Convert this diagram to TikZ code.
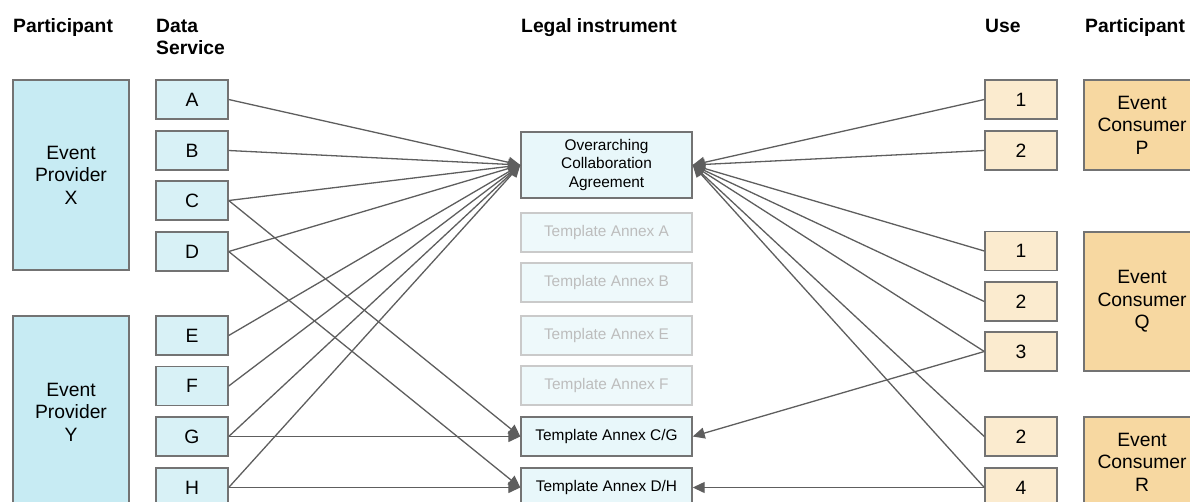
\documentclass[tikz,border=0pt]{standalone}
\usepackage{fontspec}
\setmainfont{Liberation Sans}
\usetikzlibrary{arrows.meta}
\definecolor{provfill}{HTML}{C7EBF3}
\definecolor{dsfill}{HTML}{D8F1F6}
\definecolor{legfill}{HTML}{E8F7FA}
\definecolor{tplfill}{HTML}{EEF9FB}
\definecolor{tplline}{HTML}{CACACA}
\definecolor{tpltext}{HTML}{BDBDBD}
\definecolor{usefill}{HTML}{FBEBCF}
\definecolor{consfill}{HTML}{F7D8A1}
\definecolor{boxline}{HTML}{737373}
\definecolor{conline}{HTML}{5E5E5E}
\tikzset{
  bx/.style={draw=boxline, line width=1.4pt, inner sep=0pt, align=center,
    font=\fontsize{19.3}{22.5}\selectfont},
  prov/.style={bx, fill=provfill, minimum width=116pt},
  ds/.style={bx, fill=dsfill, minimum width=72pt, minimum height=39pt},
  legal/.style={bx, fill=legfill, minimum width=171pt, minimum height=39pt,
    font=\fontsize{15.4}{18.5}\selectfont},
  tpl/.style={legal, fill=tplfill, draw=tplline, text=tpltext},
  usebox/.style={bx, fill=usefill, minimum width=72pt, minimum height=39pt},
  cons/.style={bx, fill=consfill, minimum width=116pt},
  hdr/.style={anchor=base west, inner sep=0pt, font=\fontsize{19.3}{22.5}\selectfont\bfseries},
  con/.style={draw=conline, line width=1.3pt, -{Triangle[length=12pt,width=11pt]}}
}
\begin{document}
\begin{tikzpicture}[x=1pt,y=-1pt]
\useasboundingbox (0,0) rectangle (1190,501);
\clip (0,0) rectangle (1190,501);
% headers
\node[hdr] (h1) at (13,32) {Participant};
\node[hdr] (h2a) at (156,32) {Data};
\node[hdr] (h2b) at (156,54) {Service};
\node[hdr] (h3) at (521,32) {Legal instrument};
\node[hdr] (h4) at (985,32) {Use};
\node[hdr] (h5) at (1085,32) {Participant};
% providers
\node[prov, minimum height=190pt] (PX) at (71,175) {Event\\Provider\\X};
\node[prov, minimum height=192pt] (PY) at (71,412) {Event\\Provider\\Y};
% data services
\node[ds] (A) at (192,99.5) {A};
\node[ds] (B) at (192,150.5) {B};
\node[ds] (C) at (192,200.5) {C};
\node[ds] (D) at (192,251.5) {D};
\node[ds] (E) at (192,335.5) {E};
\node[ds] (F) at (192,386) {F};
\node[ds] (G) at (192,436.5) {G};
\node[ds] (H) at (192,487.5) {H};
% legal
\node[legal, minimum height=66pt] (OCA) at (606.5,165) {Overarching\\Collaboration\\Agreement};
\node[tpl] (TA) at (606.5,232.5) {Template Annex A};
\node[tpl] (TB) at (606.5,282.5) {Template Annex B};
\node[tpl] (TE) at (606.5,335.5) {Template Annex E};
\node[tpl] (TF) at (606.5,385.5) {Template Annex F};
\node[legal] (CG) at (606.5,436.5) {Template Annex C/G};
\node[legal] (DH) at (606.5,487.5) {Template Annex D/H};
% uses
\node[usebox] (P1) at (1021,99.5) {1};
\node[usebox] (P2) at (1021,150.5) {2};
\node[usebox] (Q1) at (1021,251) {1};
\node[usebox] (Q2) at (1021,301.5) {2};
\node[usebox] (Q3) at (1021,351.5) {3};
\node[usebox] (R2) at (1021,436.5) {2};
\node[usebox] (R4) at (1021,487.5) {4};
% consumers
\node[cons, minimum height=90pt] (CP) at (1142,125) {Event\\Consumer\\P};
\node[cons, minimum height=139pt] (CQ) at (1142,301.5) {Event\\Consumer\\Q};
\node[cons, minimum height=90pt] (CR) at (1142,462) {Event\\Consumer\\R};
% connectors left
\foreach \n in {A,B,C,D,E,F,G,H} \draw[con] (\n.east) -- (OCA.west);
\draw[con] (C.east) -- (CG.west);
\draw[con] (G.east) -- (CG.west);
\draw[con] (D.east) -- (DH.west);
\draw[con] (H.east) -- (DH.west);
% connectors right
\foreach \n in {P1,P2,Q1,Q2,Q3,R2,R4} \draw[con] (\n.west) -- (OCA.east);
\draw[con] (Q3.west) -- (CG.east);
\draw[con] (R4.west) -- (DH.east);
\end{tikzpicture}
\end{document}
